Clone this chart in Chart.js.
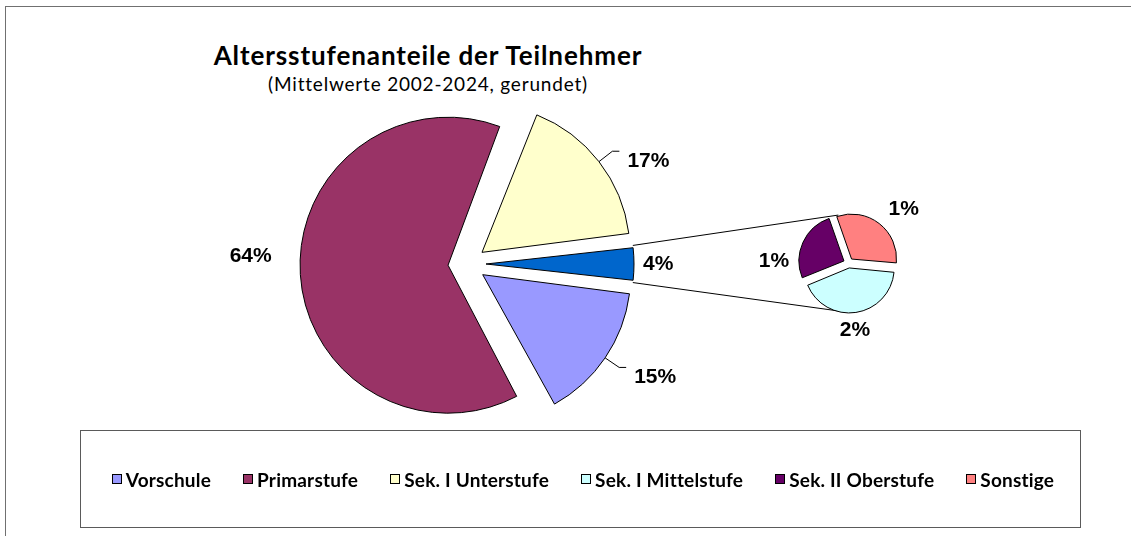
<!DOCTYPE html>
<html>
<head>
<meta charset="utf-8">
<script src="https://cdn.jsdelivr.net/npm/chart.js@4.4.1/dist/chart.umd.min.js"></script>
<style>
  body { margin: 0; background: #fff; width: 1131px; height: 536px; overflow: hidden; position: relative; font-family: Lato, "Open Sans", sans-serif; }
  #frame { position: absolute; left: 5px; top: 6px; width: 1200px; height: 600px; border-left: 1px solid #707070; border-top: 1px solid #707070; }
  canvas { position: absolute; left: 0; top: 0; }
  #title { position: absolute; left: 128px; width: 600px; top: 41.5px; text-align: center; font-weight: bold; font-size: 26px; line-height: 26px; letter-spacing: 0.9px; color: #000; }
  #subtitle { position: absolute; left: 128px; width: 600px; top: 74px; text-align: center; font-size: 19px; line-height: 19px; letter-spacing: 0.8px; color: #000; }
  #legendBox { position: absolute; left: 80px; top: 430px; width: 1001px; height: 98px; box-sizing: border-box; border: 1px solid #5a5a5a; display: flex; align-items: center; justify-content: center; }
  #legendList { list-style: none; display: flex; gap: 32px; margin: 0; padding: 0 0 0 5px; }
  #legendList li { display: flex; align-items: center; font-weight: bold; font-size: 19px; letter-spacing: 0.2px; color: #000; }
  .key { width: 8px; height: 8px; border: 1px solid #000; margin-right: 4px; }
</style>
</head>
<body>
<div id="frame"></div>
<div id="title">Altersstufenanteile der Teilnehmer</div>
<div id="subtitle">(Mittelwerte 2002-2024, gerundet)</div>
<canvas id="mainPie" width="1131" height="536"></canvas>
<canvas id="subPie" width="1131" height="536"></canvas>
<div id="legendBox"><ul id="legendList"></ul></div>
<script>
// main pie: last slice is the sum of the small groups, shown again as the small pie
const mainLabels = ["Vorschule", "Primarstufe", "Sek. I Unterstufe", "Andere"];
const mainValues = [15, 64, 17, 4];
const mainColors = ["#9999FF", "#993366", "#FFFFCC", "#0066CC"];

const subLabels = ["Sek. I Mittelstufe", "Sek. II Oberstufe", "Sonstige"];
const subValues = [1.7, 1.03, 1.27];
const subColors = ["#CCFFFF", "#660066", "#FF8080"];

const legendNames = ["Vorschule", "Primarstufe", "Sek. I Unterstufe", "Sek. I Mittelstufe", "Sek. II Oberstufe", "Sonstige"];
const legendColors = ["#9999FF", "#993366", "#FFFFCC", "#CCFFFF", "#660066", "#FF8080"];

const labelFont = "bold 21px 'Liberation Sans', Arial, sans-serif";

// chart.js grows the radius of exploded slices, put it back to the controller radius
const keepRadius = {
  id: "keepRadius",
  beforeDatasetsDraw(chart) {
    const meta = chart.getDatasetMeta(0);
    const r = meta.controller.outerRadius;
    meta.data.forEach(arc => {
      const shift = arc.options.offset / 4;
      const fix = 1 - Math.sin(Math.min(Math.PI, arc.circumference));
      arc.outerRadius = r - shift * fix;
    });
  },
};

const sliceLabels = {
  id: "sliceLabels",
  afterDatasetsDraw(chart, args, opts) {
    const ctx = chart.ctx;
    const meta = chart.getDatasetMeta(0);
    const values = chart.data.datasets[0].data;
    const r = meta.controller.outerRadius;
    ctx.save();
    ctx.font = labelFont;
    ctx.fillStyle = "#000";
    ctx.strokeStyle = "#000";
    ctx.lineWidth = 1;
    ctx.textBaseline = "middle";
    meta.data.forEach((arc, i) => {
      const place = opts.places[i];
      const mid = (arc.startAngle + arc.endAngle) / 2;
      const shift = arc.options.offset / 4;
      const cx = arc.x + Math.cos(mid) * shift;
      const cy = arc.y + Math.sin(mid) * shift;
      const text = Math.round(values[i]) + "%";
      if (place.leader) {
        const x2 = cx + Math.cos(mid) * (r + place.leader);
        const y2 = cy + Math.sin(mid) * (r + place.leader);
        ctx.beginPath();
        ctx.moveTo(cx + Math.cos(mid) * r, cy + Math.sin(mid) * r);
        ctx.lineTo(x2, y2);
        ctx.lineTo(x2 + 7, y2);
        ctx.stroke();
        ctx.textAlign = "left";
        ctx.fillText(text, x2 + 15, y2 + 9.5);
      } else {
        const a = mid + place.turn * Math.PI / 180;
        ctx.textAlign = place.align;
        ctx.fillText(text, arc.x + Math.cos(a) * place.dist, arc.y + Math.sin(a) * place.dist);
      }
    });
    ctx.restore();
  },
};

function pieConfig(labels, values, colors, extra) {
  return {
    type: "pie",
    data: {
      labels: labels,
      datasets: [{
        data: values,
        backgroundColor: colors,
        borderColor: "#000",
        borderWidth: 1,
        borderJoinStyle: "miter",
        offset: extra.offset,
      }],
    },
    options: {
      responsive: false,
      animation: false,
      events: [],
      radius: extra.radius,
      rotation: extra.rotation,
      layout: { padding: extra.padding },
      plugins: {
        legend: { display: false },
        tooltip: { enabled: false },
        sliceLabels: { places: extra.places },
      },
    },
    plugins: [keepRadius, sliceLabels].concat(extra.plugins || []),
  };
}

const subChart = new Chart(document.getElementById("subPie"), pieConfig(subLabels, subValues, subColors, {
  offset: 20,
  radius: 45,
  rotation: 95,
  padding: { left: 566, right: 0, top: 0, bottom: 10 },
  places: [
    { turn: 3, dist: 68, align: "center" },
    { turn: -23, dist: 74.5, align: "center" },
    { turn: 8, dist: 77, align: "center" },
  ],
}));

// lines from the small slice of the main pie to the small pie
const connector = {
  id: "connector",
  afterDatasetsDraw(chart) {
    const meta = chart.getDatasetMeta(0);
    const r = meta.controller.outerRadius;
    const other = meta.data[meta.data.length - 1];
    const mid = (other.startAngle + other.endAngle) / 2;
    const shift = other.options.offset / 4;
    const cx = other.x + Math.cos(mid) * shift;
    const cy = other.y + Math.sin(mid) * shift;
    const subMeta = subChart.getDatasetMeta(0);
    const sub = subMeta.data[0];
    const subR = subMeta.controller.outerRadius + 4;
    const edge = 102 * Math.PI / 180;
    const ctx = chart.ctx;
    ctx.save();
    ctx.strokeStyle = "#000";
    ctx.lineWidth = 1;
    ctx.beginPath();
    ctx.moveTo(cx + Math.cos(other.startAngle) * r, cy + Math.sin(other.startAngle) * r);
    ctx.lineTo(sub.x + Math.cos(-edge) * subR, sub.y + Math.sin(-edge) * subR);
    ctx.moveTo(cx + Math.cos(other.endAngle) * r, cy + Math.sin(other.endAngle) * r);
    ctx.lineTo(sub.x + Math.cos(edge) * subR, sub.y + Math.sin(edge) * subR);
    ctx.stroke();
    ctx.restore();
  },
};

const total = mainValues.reduce((a, b) => a + b, 0);
const mainChart = new Chart(document.getElementById("mainPie"), pieConfig(mainLabels, mainValues, mainColors, {
  offset: 76,
  radius: 148,
  rotation: 90 + mainValues[mainValues.length - 1] / total * 180,
  padding: { left: 0, right: 197, top: 0, bottom: 8 },
  places: [
    { leader: 17 },
    { turn: 5.9, dist: 195.5, align: "right" },
    { leader: 17 },
    { turn: 0, dist: 176, align: "left" },
  ],
  plugins: [connector],
}));

document.getElementById("legendList").innerHTML = legendNames.map((name, i) =>
  "<li><span class='key' style='background:" + legendColors[i] + "'></span>" + name + "</li>"
).join("");
</script>
</body>
</html>
